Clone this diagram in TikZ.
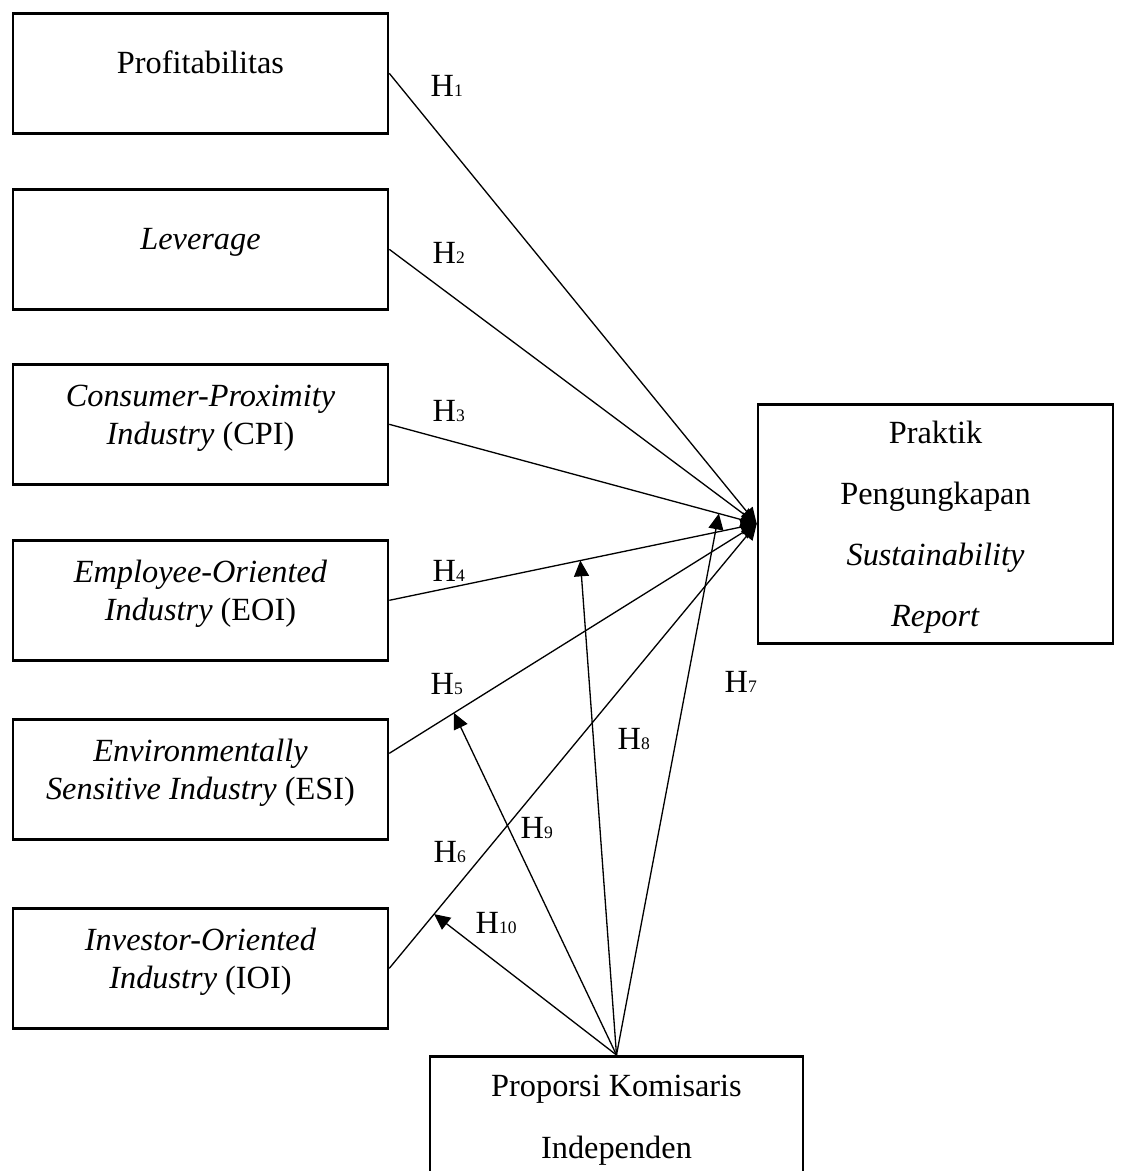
\documentclass[tikz,border=0pt]{standalone}
\usepackage{fontspec}
\setmainfont{Liberation Serif}
\usetikzlibrary{arrows.meta}
\newcommand{\hsub}[1]{{\fontsize{10}{10}\selectfont #1}}

\begin{document}
\begin{tikzpicture}[x=0.02cm, y=-0.02cm, line width=0.75pt,
    >={Triangle[length=9pt,width=8.5pt]},
    varbox/.style={draw, line width=1.5pt, anchor=north, inner sep=0pt, align=center,
        font=\fontsize{18.4}{21.8}\selectfont},
    onebox/.style={varbox, minimum width=7.5cm, text height=34.1pt, text depth=34.2pt},
    twobox/.style={varbox, minimum width=7.5cm, text height=45.8pt, text depth=22.5pt},
    hlab/.style={anchor=base west, inner sep=0pt, font=\fontsize{18.4}{20}\selectfont}]
    \useasboundingbox (0,0) rectangle (1122,1171);
    % independent variables
    \node[onebox] (prof) at (200.5,12) {Profitabilitas};
    \node[onebox] (lev) at (200.5,188) {\textit{Leverage}};
    \node[twobox] (cpi) at (200.5,363) {\textit{Consumer-Proximity}\\\textit{Industry} (CPI)};
    \node[twobox] (eoi) at (200.5,539) {\textit{Employee-Oriented}\\\textit{Industry} (EOI)};
    \node[twobox] (esi) at (200.5,718) {\textit{Environmentally}\\\textit{Sensitive Industry} (ESI)};
    \node[twobox] (ioi) at (200.5,907) {\textit{Investor-Oriented}\\\textit{Industry} (IOI)};
    % dependent and moderating variables
    \node[varbox, minimum width=7.1cm, text height=126.3pt, text depth=9.7pt,
        font=\fontsize{18.4}{34.7}\selectfont] (sr) at (935.5,403)
        {Praktik\\Pengungkapan\\\textit{Sustainability}\\\textit{Report}};
    \node[varbox, minimum width=7.46cm, text height=58pt, text depth=40pt,
        font=\fontsize{18.4}{35.3}\selectfont] (pk) at (616.5,1055)
        {Proporsi Komisaris\\Independen};
    % direct effects
    \draw[->] (prof.east) -- (sr.west);
    \draw[->] (lev.east) -- (sr.west);
    \draw[->] (cpi.east) -- coordinate[pos=0.897] (m7) (sr.west);
    \draw[->] (eoi.east) -- coordinate[pos=0.52] (m8) (sr.west);
    \draw[->] ([yshift=0.52cm]esi.east) -- coordinate[pos=0.176] (m9) (sr.west);
    \draw[->] (ioi.east) -- coordinate[pos=0.122] (m10) (sr.west);
    % moderation
    \foreach \m in {m7, m8, m9, m10}
        \draw[->] (pk.north) -- (\m);
    % hypothesis labels
    \foreach \i/\x/\y in {1/430/96, 2/432/263, 3/432/421, 4/432/581, 5/430/694,
        6/433/862, 7/724/692, 8/617/749, 9/520/838, 10/475/933}
        \node[hlab] (h\i) at (\x,\y) {H\hsub{\i}};
\end{tikzpicture}
\end{document}
